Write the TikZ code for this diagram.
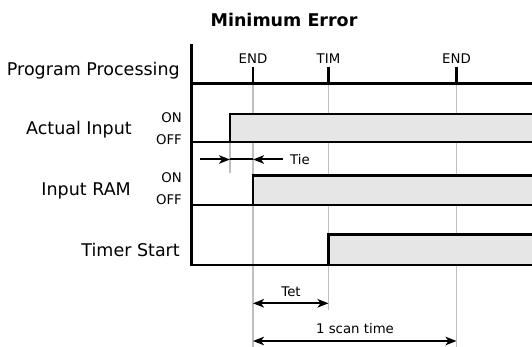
\documentclass[tikz,border=0pt]{standalone}
\usepackage{fontspec}
\setmainfont{DejaVu Sans}
\usetikzlibrary{arrows.meta}
\definecolor{gridgrey}{HTML}{BFBFBF}
\definecolor{boxfill}{HTML}{E6E6E6}
\tikzset{
  sig/.style={line width=2.9pt, line join=miter},
  sigbox/.style={sig, fill=boxfill},
  gridline/.style={draw=gridgrey, line width=1.3pt},
  biglabel/.style={font=\fontsize{17.5}{20}\selectfont, inner sep=0pt},
  smalllabel/.style={font=\fontsize{13.3}{15}\selectfont, inner sep=0pt},
  arrtip/.tip={Stealth[length=11pt,width=8.5pt,inset=3pt]},
  tip/.style={-arrtip, line width=2pt},
  dtip/.style={arrtip-arrtip, line width=2pt},
}
\begin{document}
\begin{tikzpicture}[x=1pt,y=-1pt]
\useasboundingbox (0,0) rectangle (532,347);
% key coordinates
\coordinate (axT) at (191.5,44);
\coordinate (axB) at (191.5,265);
\coordinate (ppL) at (191.5,83.3);
\coordinate (ppR) at (545,83.3);
\coordinate (e1) at (253,83.3);
\coordinate (t1) at (328.5,83.3);
\coordinate (e2) at (456.5,83.3);
\coordinate (e1top) at (253,67);
\coordinate (t1top) at (328.5,67);
\coordinate (e2top) at (456.5,67);
\coordinate (e1bot) at (253,347);
\coordinate (t1bot) at (328.5,310);
\coordinate (e2bot) at (456.5,347);
\coordinate (aiedge) at (230,142);
\coordinate (aiedgebot) at (230,173);
% grey guide lines
\draw[gridline] (e1) -- (e1bot);
\draw[gridline] (t1) -- (t1bot);
\draw[gridline] (e2) -- (e2bot);
\draw[gridline] (aiedge) -- (aiedgebot);
% title
\node[biglabel, font=\fontsize{17.5}{20}\selectfont\bfseries] (title) at (284,20) {Minimum Error};
% row labels
\node[biglabel, anchor=east] (lpp) at (180,71) {Program Processing};
\node[biglabel, anchor=east] (lai) at (132,129.5) {Actual Input};
\node[biglabel, anchor=east] (lir) at (131,190.5) {Input RAM};
\node[biglabel, anchor=east] (lts) at (180,250) {Timer Start};
\node[smalllabel, anchor=east] (on1) at (182,118) {ON};
\node[smalllabel, anchor=east] (off1) at (182,139.5) {OFF};
\node[smalllabel, anchor=east] (on2) at (182,178) {ON};
\node[smalllabel, anchor=east] (off2) at (182,199.5) {OFF};
% tick labels
\node[smalllabel] (lend1) at (253,58.5) {END};
\node[smalllabel] (ltim) at (328.5,58.5) {TIM};
\node[smalllabel] (lend2) at (456.5,58.5) {END};
% program processing line and ticks
\draw[sig] (ppL) -- (ppR);
\draw[sig] (e1top) -- (e1);
\draw[sig] (t1top) -- (t1);
\draw[sig] (e2top) -- (e2);
% signals
\draw[sigbox] (230,142) rectangle (545,114);
\draw[sig] (191.5,142) -- (545,142);
\draw[sigbox] (253,205) rectangle (545,175.5);
\draw[sig] (191.5,205) -- (545,205);
\draw[sigbox] (328.5,265) rectangle (545,234.5);
\draw[sig] (axT) -- (axB) -- (545,265);
% Tie
\coordinate (tieL) at (200,159.5);
\coordinate (tieA) at (230,159.5);
\coordinate (tieB) at (253,159.5);
\coordinate (tieR) at (283,159.5);
\draw[line width=2pt] (tieA) -- (tieB);
\draw[tip] (tieL) -- (tieA);
\draw[tip] (tieR) -- (tieB);
\node[smalllabel, anchor=west] (ltie) at (290,160) {Tie};
% Tet
\coordinate (tetL) at (253,303.3);
\coordinate (tetR) at (328.5,303.3);
\draw[dtip] (tetL) -- (tetR);
\node[smalllabel] (ltet) at (291,291.5) {Tet};
% scan time
\coordinate (scL) at (253,341);
\coordinate (scR) at (456.5,341);
\draw[dtip] (scL) -- (scR);
\node[smalllabel] (lscan) at (355,329) {1 scan time};
\end{tikzpicture}
\end{document}
